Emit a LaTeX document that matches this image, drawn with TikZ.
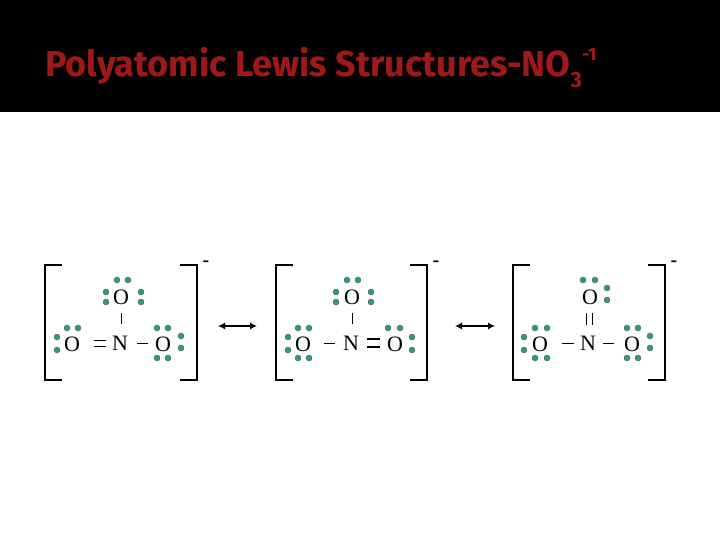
\documentclass[tikz,border=0pt]{standalone}
\usepackage{fontspec}
\setmainfont{Liberation Serif}
\newfontfamily\titlefont{Fira Sans}
\definecolor{dotc}{HTML}{2E9C7C}
\definecolor{titlec}{HTML}{A01818}
\tikzset{
 atom/.style={inner sep=0pt,font=\fontsize{22}{22}\selectfont},
 ep/.style={circle,fill=dotc,draw=black!70,line width=0.3pt,minimum size=6pt,inner sep=0pt},
 bond/.style={line width=1pt},
 brk/.style={line width=1.2pt},
 chg/.style={font=\bfseries\fontsize{20}{20}\selectfont,inner sep=0pt},
 res/.style={<->,>={Latex[length=7pt,width=7pt]},line width=1.2pt}
}
\usetikzlibrary{arrows.meta}
\newcommand{\brackets}[3]{% left x, right x, name
 \draw[brk] (#1+17,265) -- (#1,265) -- (#1,380) -- (#1+17,380);
 \draw[brk] (#2-17,265) -- (#2,265) -- (#2,380) -- (#2-17,380);
 \node[chg] (#3) at (#2+9,264) {-};
}
\begin{document}
\begin{tikzpicture}[x=1pt,y=-1pt]
\useasboundingbox (0,0) rectangle (720,540);
\fill[black] (0,0) rectangle (720,112);
\node[text=titlec,font=\titlefont\bfseries\fontsize{36}{36}\selectfont,anchor=base west,inner sep=0pt] (title) at (45,77) {Polyatomic Lewis Structures-NO\raisebox{-11pt}{\fontsize{22}{22}\selectfont 3}\raisebox{16pt}{\fontsize{18}{18}\selectfont -1}};
% structure 1
\brackets{45}{197}{c1}
\node[atom] (t1) at (121,297) {O};
\node[atom] (n1) at (120,343) {N};
\node[atom] (l1) at (72,344) {O};
\node[atom] (r1) at (163,344) {O};
\draw[bond] (121,313) -- (121,324);
\draw[bond] (94,340) -- (106,340) (94,346) -- (106,346);
\draw[bond] (137,343) -- (148,343);
\foreach \p in {(117,280),(128,280),(106,292),(106,302),(141,292),(141,302),
 (67,328),(78,328),(57,337),(57,350),
 (157,328),(168,328),(181,336),(181,348),(157,358),(168,358)} \node[ep] at \p {};
\draw[res] (218,326) -- (257,326);
% structure 2
\brackets{276}{427}{c2}
\node[atom] (t2) at (352,297) {O};
\node[atom] (n2) at (351,343) {N};
\node[atom] (l2) at (303,344) {O};
\node[atom] (r2) at (395,344) {O};
\draw[bond] (352,313) -- (352,324);
\draw[bond] (324,343) -- (335,343);
\draw[line width=2pt] (367,339) -- (380,339) (367,347) -- (380,347);
\foreach \p in {(347,280),(358,280),(336,292),(336,302),(371,292),(371,302),
 (298,328),(309,328),(288,337),(288,350),(298,358),(309,358),
 (388,328),(400,328),(412,337),(412,350)} \node[ep] at \p {};
\draw[res] (455,326) -- (495,326);
% structure 3
\brackets{513}{665}{c3}
\node[atom] (t3) at (590,297) {O};
\node[atom] (n3) at (588,343) {N};
\node[atom] (l3) at (540,344) {O};
\node[atom] (r3) at (632,344) {O};
\draw[bond] (586,313) -- (586,325) (592,313) -- (592,325);
\draw[bond] (562,343) -- (574,343);
\draw[bond] (603,343) -- (614,343);
\foreach \p in {(583,280),(595,280),(607,288),(607,300),
 (535,328),(547,328),(524,337),(524,350),(535,358),(547,358),
 (627,328),(638,328),(650,336),(650,348),(627,358),(638,358)} \node[ep] at \p {};
\end{tikzpicture}
\end{document}
